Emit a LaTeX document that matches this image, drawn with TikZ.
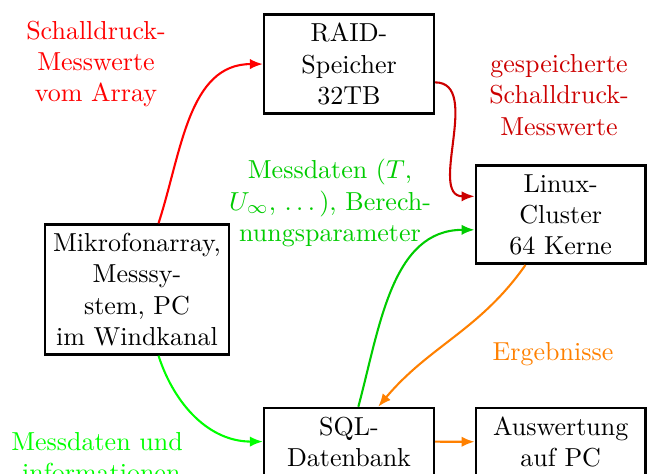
\documentclass[tikz,border=0pt]{standalone}
\usetikzlibrary{arrows.meta}
\definecolor{cred}{RGB}{255,0,0}
\definecolor{cdred}{RGB}{204,0,0}
\definecolor{cgreen}{RGB}{0,255,0}
\definecolor{cdgreen}{RGB}{0,204,0}
\definecolor{corange}{RGB}{255,128,0}
\begin{document}
\begin{tikzpicture}[x=0.3846pt,y=0.3846pt,
  box/.style={draw=black,line width=1pt,align=center,anchor=north,text width=58.6pt,inner xsep=3.33pt,inner ysep=3.33pt},
  widebox/.style={box,text width=65.7pt,inner xsep=2.5pt},
  lbl/.style={align=center,inner sep=0pt},
  conn/.style={thick,-{Latex[length=5pt,width=4pt]}}]
\useasboundingbox (0,0) rectangle (653,473);
\node[widebox] (mikro) at (137,249.7) {Mikrofonarray,\\Messsy-\\stem, PC\\im Windkanal};
\node[box] (raid) at (349,459.7) {RAID-\\Speicher\\32TB};
\node[box] (linux) at (560.7,308.7) {Linux-\\Cluster\\64 Kerne};
\node[box] (sql) at (349,66.3) {SQL-\\Datenbank};
\node[box] (ausw) at (560.7,66.3) {Auswertung\\auf PC};
\node[lbl,text=cred] (l1) at (96,409) {Schalldruck-\\Messwerte\\vom Array};
\node[lbl,text=cdred] (l2) at (559,378) {gespeicherte\\Schalldruck-\\Messwerte};
\node[lbl,text=cdgreen] (l3) at (330,270) {Messdaten ($T$,\\$U_\infty$, $\ldots$\kern1.67pt), Berech-\\nungsparameter};
\node[lbl,text=corange] (l4) at (553,119) {Ergebnisse};
\node[lbl,text=cgreen] (l5) at (97,16) {Messdaten und\\-informationen};
\draw[conn,cred] (mikro) to[out=72,in=180] (raid);
\draw[conn,cgreen] (mikro) to[out=-72,in=180] (sql);
\draw[conn,cdred] (raid.-12) to[out=0,in=180] (linux.168);
\draw[conn,cdgreen] (sql) to[out=75,in=180] (linux.190);
\draw[conn,corange] (linux) to[out=-125,in=50] (sql);
\draw[conn,corange] (sql) -- (ausw);
\end{tikzpicture}
\end{document}
